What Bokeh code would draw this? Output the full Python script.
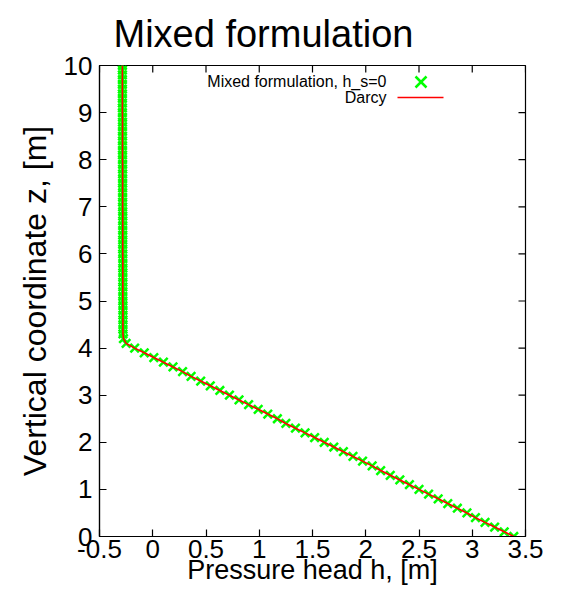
from bokeh.plotting import figure
from bokeh.models import FixedTicker, Range1d, Label, Arrow, ColumnDataSource
from bokeh.embed import file_html
from bokeh.resources import INLINE

title_text = "Mixed formulation"
x_label = "Pressure head h, [m]"
y_label = "Vertical coordinate z, [m]"
series_names = ["Mixed formulation, h_s=0", "Darcy"]

x_ticks = [-0.5, 0, 0.5, 1, 1.5, 2, 2.5, 3, 3.5]
x_tick_labels = ["-0.5", "0", "0.5", "1", "1.5", "2", "2.5", "3", "3.5"]
y_ticks = [0, 1, 2, 3, 4, 5, 6, 7, 8, 9, 10]
y_tick_labels = ["0", "1", "2", "3", "4", "5", "6", "7", "8", "9", "10"]

# vertical coordinate z [m]
z = [0.0, 0.1, 0.2, 0.3, 0.4, 0.5, 0.6, 0.7, 0.8, 0.9,
     1.0, 1.1, 1.2, 1.3, 1.4, 1.5, 1.6, 1.7, 1.8, 1.9,
     2.0, 2.1, 2.2, 2.3, 2.4, 2.5, 2.6, 2.7, 2.8, 2.9,
     3.0, 3.1, 3.2, 3.3, 3.4, 3.5, 3.6, 3.7, 3.8, 3.9,
     4.0, 4.1, 4.2, 4.3, 4.4, 4.5, 4.6, 4.7, 4.8, 4.9,
     5.0, 5.1, 5.2, 5.3, 5.4, 5.5, 5.6, 5.7, 5.8, 5.9,
     6.0, 6.1, 6.2, 6.3, 6.4, 6.5, 6.6, 6.7, 6.8, 6.9,
     7.0, 7.1, 7.2, 7.3, 7.4, 7.5, 7.6, 7.7, 7.8, 7.9,
     8.0, 8.1, 8.2, 8.3, 8.4, 8.5, 8.6, 8.7, 8.8, 8.9,
     9.0, 9.1, 9.2, 9.3, 9.4, 9.5, 9.6, 9.7, 9.8, 9.9,
     10.0]

# pressure head h [m], mixed formulation (h_s = 0)
h_mixed = [3.39, 3.30, 3.21, 3.12, 3.03, 2.95, 2.86, 2.77, 2.68, 2.59,
           2.50, 2.41, 2.32, 2.23, 2.14, 2.06, 1.97, 1.88, 1.79, 1.70,
           1.61, 1.52, 1.43, 1.34, 1.25, 1.17, 1.08, 0.99, 0.90, 0.81,
           0.72, 0.63, 0.54, 0.45, 0.36, 0.28, 0.19, 0.10, 0.01, -0.08,
           -0.17, -0.25, -0.275, -0.28, -0.28, -0.28, -0.28, -0.28, -0.28, -0.28,
           -0.281, -0.281, -0.281, -0.281, -0.281, -0.281, -0.281, -0.281, -0.281, -0.281,
           -0.282, -0.282, -0.282, -0.282, -0.282, -0.282, -0.282, -0.282, -0.282, -0.282,
           -0.283, -0.283, -0.283, -0.283, -0.283, -0.283, -0.283, -0.283, -0.283, -0.283,
           -0.284, -0.284, -0.284, -0.284, -0.284, -0.284, -0.284, -0.284, -0.284, -0.284,
           -0.285, -0.285, -0.285, -0.285, -0.285, -0.285, -0.285, -0.285, -0.285, -0.285,
           -0.285]

# pressure head h [m], Darcy solution
h_darcy = [3.39, 3.30, 3.21, 3.12, 3.03, 2.95, 2.86, 2.77, 2.68, 2.59,
           2.50, 2.41, 2.32, 2.23, 2.14, 2.06, 1.97, 1.88, 1.79, 1.70,
           1.61, 1.52, 1.43, 1.34, 1.25, 1.17, 1.08, 0.99, 0.90, 0.81,
           0.72, 0.63, 0.54, 0.45, 0.36, 0.28, 0.19, 0.10, 0.01, -0.08,
           -0.17, -0.25, -0.275, -0.28, -0.28, -0.28, -0.28, -0.28, -0.28, -0.28,
           -0.281, -0.281, -0.281, -0.281, -0.281, -0.281, -0.281, -0.281, -0.281, -0.281,
           -0.282, -0.282, -0.282, -0.282, -0.282, -0.282, -0.282, -0.282, -0.282, -0.282,
           -0.283, -0.283, -0.283, -0.283, -0.283, -0.283, -0.283, -0.283, -0.283, -0.283,
           -0.284, -0.284, -0.284, -0.284, -0.284, -0.284, -0.284, -0.284, -0.284, -0.284,
           -0.285, -0.285, -0.285, -0.285, -0.285, -0.285, -0.285, -0.285, -0.285, -0.285,
           -0.285]

FONT = "Liberation Sans"
GREEN = "#00ff00"
RED = "#ff0000"

X0, X1 = -0.5, 3.5
Y0, Y1 = 0, 10
W, H = 564, 589
BL, BR, BT, BB = 99, 39, 64, 53
TICK_PX = 7

p = figure(width=W, height=H,
           x_range=Range1d(X0, X1), y_range=Range1d(Y0, Y1),
           output_backend="svg", toolbar_location=None,
           min_border_left=BL, min_border_right=BR,
           min_border_top=BT, min_border_bottom=BB)

p.background_fill_color = "white"
p.border_fill_color = "white"
p.outline_line_color = "black"
p.outline_line_width = 1.2
p.xgrid.visible = False
p.ygrid.visible = False

p.title.text = title_text
p.title.text_font = FONT
p.title.text_font_size = "38px"
p.title.text_font_style = "normal"
p.title.text_color = "black"
p.title.align = "left"
p.title.offset = 14
p.title.standoff = 21


def style_axis(ax, ticks, labels):
    ax.ticker = FixedTicker(ticks=ticks)
    ax.major_label_overrides = {t: l for t, l in zip(ticks, labels)}
    ax.major_tick_in = TICK_PX
    ax.major_tick_out = 0
    ax.minor_tick_in = 0
    ax.minor_tick_out = 0
    ax.axis_line_color = "black"
    ax.axis_line_width = 1.2
    ax.major_tick_line_color = "black"
    ax.major_tick_line_width = 1.2
    ax.major_label_text_font = FONT
    ax.major_label_text_color = "black"
    ax.major_label_text_font_size = "26px"
    ax.axis_label_text_font = FONT
    ax.axis_label_text_font_style = "normal"
    ax.axis_label_text_color = "black"


xax = p.xaxis[0]
style_axis(xax, x_ticks, x_tick_labels)
xax.major_label_standoff = 3
xax.axis_label = x_label
xax.axis_label_text_font_size = "27px"
xax.axis_label_standoff = -6

yax = p.yaxis[0]
style_axis(yax, y_ticks, y_tick_labels)
yax.major_label_standoff = 7
yax.axis_label = y_label
yax.axis_label_text_font_size = "32px"
yax.axis_label_standoff = 8

# mirrored ticks on the top and right edges of the frame
frame_w = W - BL - BR
frame_h = H - BT - BB
ty = TICK_PX * (Y1 - Y0) / frame_h
tx = TICK_PX * (X1 - X0) / frame_w
p.segment(x0=x_ticks, y0=[Y1] * len(x_ticks), x1=x_ticks, y1=[Y1 - ty] * len(x_ticks),
          line_color="black", line_width=1.2)
p.segment(x0=[X1] * len(y_ticks), y0=y_ticks, x1=[X1 - tx] * len(y_ticks), y1=y_ticks,
          line_color="black", line_width=1.2)

src = ColumnDataSource(dict(z=z, h_mixed=h_mixed, h_darcy=h_darcy))
p.scatter("h_mixed", "z", source=src, marker="x", size=12,
          line_color=GREEN, line_width=2.5)
p.line("h_darcy", "z", source=src, line_color=RED, line_width=1.6)

# key (label on the left, sample on the right), in frame pixels
p.add_layout(Label(x=287, y=455, x_units="screen", y_units="screen",
                   text=series_names[0], text_align="right", text_baseline="middle",
                   text_font=FONT, text_font_size="16px", text_color="black"))
p.add_layout(Label(x=287, y=439, x_units="screen", y_units="screen",
                   text=series_names[1], text_align="right", text_baseline="middle",
                   text_font=FONT, text_font_size="16px", text_color="black"))
p.add_layout(Arrow(end=None, x_start=316, y_start=449, x_end=327, y_end=460,
                   start_units="screen", end_units="screen",
                   line_color=GREEN, line_width=2.5))
p.add_layout(Arrow(end=None, x_start=316, y_start=460, x_end=327, y_end=449,
                   start_units="screen", end_units="screen",
                   line_color=GREEN, line_width=2.5))
p.add_layout(Arrow(end=None, x_start=298, y_start=439, x_end=344, y_end=439,
                   start_units="screen", end_units="screen",
                   line_color=RED, line_width=1.5))

open("out.html", "w").write(file_html(p, INLINE))
